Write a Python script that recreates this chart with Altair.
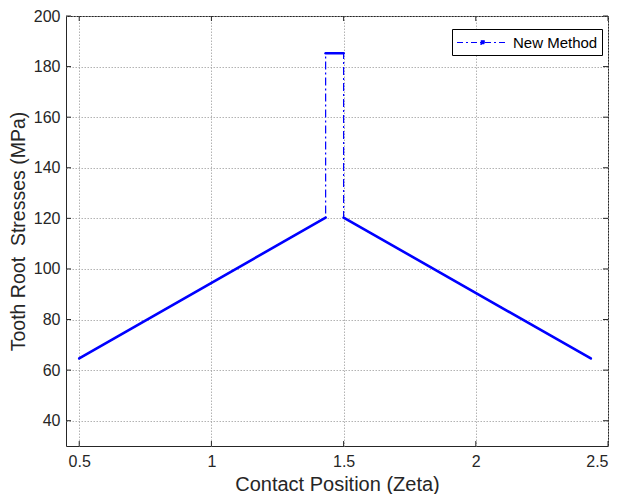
import altair as alt
import pandas as pd

# Path of the "New Method" curve
x_path = [0.5, 1.432, 1.432, 1.5, 1.5, 2.435]
y_path = [64.6, 120.3, 185.3, 185.3, 120.3, 64.6]
series_name = "New Method"

x_ticks = [0.5, 1, 1.5, 2, 2.5]
y_ticks = [40, 60, 80, 100, 120, 140, 160, 180, 200]

X_DOMAIN = [0.45, 2.5]
Y_DOMAIN = [30, 200]
W, H = 542, 430
FONT = "Liberation Sans"
TXT = "#262626"

path_df = pd.DataFrame({"x": x_path, "y": y_path, "order": list(range(len(x_path))),
                        "series": [series_name] * len(x_path)})

# densely sampled (non-vertical) segments look solid in the original
segs = []
for i in range(len(x_path) - 1):
    if x_path[i] != x_path[i + 1]:
        segs.append({"x1": x_path[i], "y1": y_path[i], "x2": x_path[i + 1], "y2": y_path[i + 1]})
seg_df = pd.DataFrame(segs)

xs = alt.Scale(domain=X_DOMAIN, nice=False, zero=False)
ys = alt.Scale(domain=Y_DOMAIN, nice=False, zero=False)

x_axis = alt.Axis(values=x_ticks, title="Contact Position (Zeta)", grid=True, ticks=False, domain=False,
                  labelFontSize=16, titleFontSize=20, labelPadding=7, titlePadding=5,
                  labelExpr="datum.value == 1 || datum.value == 2 ? format(datum.value, 'd') : format(datum.value, '.1f')")
y_axis = alt.Axis(values=y_ticks, title="Tooth Root\u00a0 Stresses (MPa)", grid=True, ticks=False, domain=False,
                  labelFontSize=16, titleFontSize=19.5, labelPadding=6, titlePadding=5)

# legend symbol: long dash-dot stroke with a small dot marker in its middle
legend_symbol = "M-1,0L5,0M1.8,-0.2L2.2,-0.2L2.2,0.2L1.8,0.2Z"

line = alt.Chart(path_df).mark_line(strokeWidth=1.2, strokeDash=[8, 3, 2, 3]).encode(
    x=alt.X("x:Q", scale=xs, axis=x_axis),
    y=alt.Y("y:Q", scale=ys, axis=y_axis),
    order="order:Q",
    color=alt.Color("series:N", scale=alt.Scale(domain=[series_name], range=["#0000ff"]),
                    legend=alt.Legend(title=None, orient="none", legendX=386, legendY=13,
                                      symbolType=legend_symbol, symbolSize=289, symbolStrokeWidth=1.2,
                                      symbolFillColor="#0000ff", symbolStrokeColor="#0000ff",
                                      symbolDash=[6, 3, 2, 3], strokeColor="black", fillColor="white",
                                      padding=4, labelFontSize=15, labelFont=FONT, labelColor="black",
                                      labelOffset=38, cornerRadius=0)),
)

solid = alt.Chart(seg_df).mark_rule(color="#0000ff", strokeWidth=2.6, strokeCap="round").encode(
    x=alt.X("x1:Q", scale=xs), y=alt.Y("y1:Q", scale=ys), x2="x2:Q", y2="y2:Q"
)

xt_df = pd.DataFrame({"t": x_ticks})
yt_df = pd.DataFrame({"t": y_ticks})
tick_style = dict(color="#262626", strokeWidth=1)
tb = alt.Chart(xt_df).mark_rule(**tick_style).encode(x=alt.X("t:Q", scale=xs), y=alt.value(H), y2=alt.value(H - 5))
tt = alt.Chart(xt_df).mark_rule(**tick_style).encode(x=alt.X("t:Q", scale=xs), y=alt.value(0), y2=alt.value(5))
tl = alt.Chart(yt_df).mark_rule(**tick_style).encode(y=alt.Y("t:Q", scale=ys), x=alt.value(0), x2=alt.value(5))
tr = alt.Chart(yt_df).mark_rule(**tick_style).encode(y=alt.Y("t:Q", scale=ys), x=alt.value(W), x2=alt.value(W - 5))

chart = alt.layer(line, solid, tb, tt, tl, tr).properties(
    width=W, height=H,
    autosize=alt.AutoSizeParams(type="none"),
    padding={"left": 58, "top": 8, "right": 11, "bottom": 48},
).configure_view(
    stroke="#262626", strokeWidth=1
).configure_axis(
    gridColor="#a0a0a0", gridDash=[1.5, 1.5], gridWidth=1, gridOpacity=0.8,
    labelFont=FONT, titleFont=FONT, labelColor=TXT, titleColor=TXT, titleFontWeight="normal"
)

chart.save("out.html", embed_options={"renderer": "svg", "actions": False})
